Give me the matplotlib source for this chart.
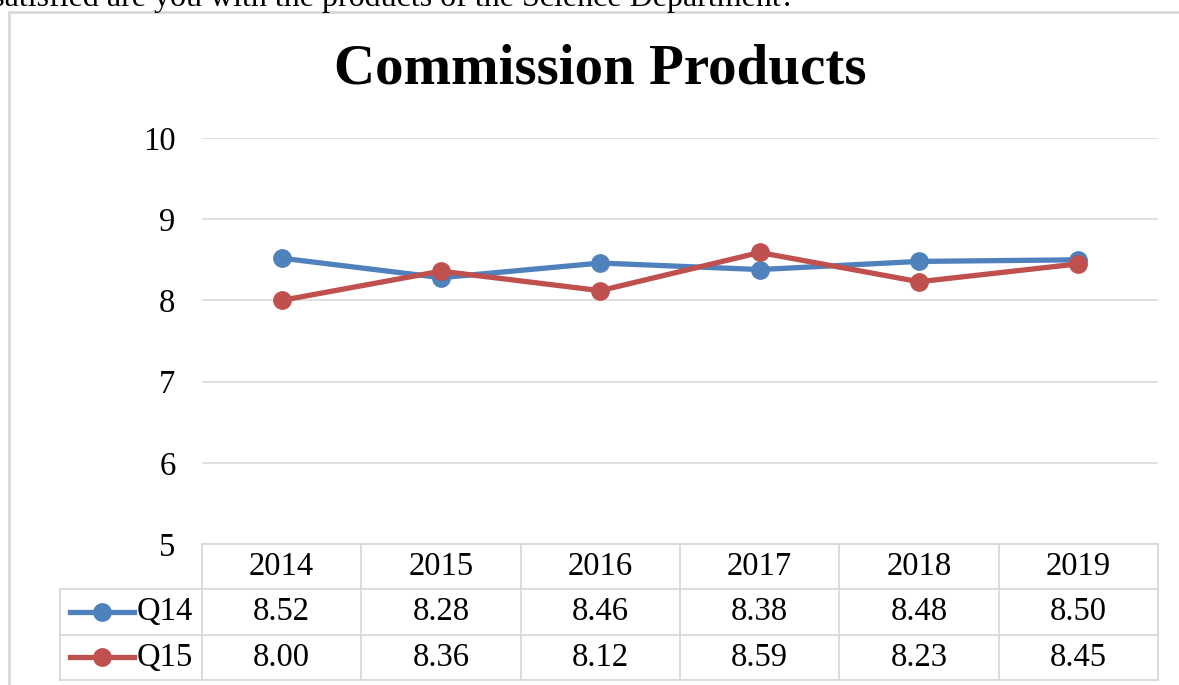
import matplotlib.pyplot as plt
from matplotlib.lines import Line2D

# data
years = ['2014', '2015', '2016', '2017', '2018', '2019']
q14 = [8.52, 8.28, 8.46, 8.38, 8.48, 8.50]
q15 = [8.00, 8.36, 8.12, 8.59, 8.23, 8.45]
series_names = ['Q14', 'Q15']
yticks = [5, 6, 7, 8, 9, 10]

plt.rcParams['font.family'] = ['Liberation Serif', 'DejaVu Serif']

W, H = 1179, 685
fig = plt.figure(figsize=(W / 100, H / 100), dpi=100)

def fx(px):
    return px / W

def fy(py):
    return 1 - py / H

blue = '#4F81BD'
red = '#C0504D'
grid = '#D9D9D9'
fs = 23.5

# sentence above the chart frame, cut by the top edge as in the source page
fig.text(fx(795), fy(6), 'How satisfied are you with the products of the Science Department?',
         fontsize=23, ha='right', va='baseline', color='black')

# chart frame (only left/top edges visible)
fig.add_artist(Line2D([fx(9), fx(9)], [fy(12), fy(H + 5)], color='#D9D9D9', lw=2.0))
fig.add_artist(Line2D([fx(9), fx(W + 5)], [fy(12), fy(12)], color='#D9D9D9', lw=2.0))

# main plot area
left, right, top, bottom = 202, 1158, 138, 544
ax = fig.add_axes([fx(left), fy(bottom), fx(right - left), (bottom - top) / H])
x = list(range(len(years)))
ax.plot(x, q14, color=blue, lw=3.8, marker='o', ms=12.5, zorder=3)
ax.plot(x, q15, color=red, lw=3.8, marker='o', ms=12.5, zorder=3)
ax.set_xlim(-0.5, len(years) - 0.5)
ax.set_ylim(5, 10)
ax.set_yticks(yticks)
ax.set_yticklabels([str(v) for v in yticks], fontsize=fs)
ax.tick_params(axis='y', length=0, pad=19)
ax.set_xticks([])
ax.grid(axis='y', color=grid, lw=1.2)
ax.set_axisbelow(True)
for s in ax.spines.values():
    s.set_visible(False)

fig.text(fx(600), fy(70), 'Commission Products', fontsize=41, fontweight='bold',
         ha='center', va='center')

# data table below the plot
tbl_bottom = 680
tax = fig.add_axes([fx(left), fy(tbl_bottom), fx(right - left), (tbl_bottom - bottom) / H])
tax.set_xlim(-0.5, len(years) - 0.5)
tax.set_ylim(3, 0)
tax.axis('off')
unit = (right - left) / len(years)
legend_left = -0.5 - (left - 60) / unit

lc = '#D9D9D9'
lw = 1.3
# horizontal lines
tax.plot([-0.5, 5.5], [0, 0], color=lc, lw=lw, clip_on=False)
for r in [1, 2, 3]:
    tax.plot([legend_left, 5.5], [r, r], color=lc, lw=lw, clip_on=False)
# vertical lines
tax.plot([legend_left, legend_left], [1, 3], color=lc, lw=lw, clip_on=False)
for c in range(len(years) + 1):
    tax.plot([c - 0.5, c - 0.5], [0, 3], color=lc, lw=lw, clip_on=False)

for i, yr in enumerate(years):
    tax.text(i, 0.5, yr, ha='center', va='center', fontsize=fs)
for r, (vals, col, name) in enumerate(zip([q14, q15], [blue, red], series_names), start=1):
    for i, v in enumerate(vals):
        tax.text(i, r + 0.5, f'{v:.2f}', ha='center', va='center', fontsize=fs)
    # legend key in the first column
    x0 = -0.5 - (left - 70) / unit
    x1 = -0.5 - (left - 134) / unit
    tax.plot([x0, x1], [r + 0.5, r + 0.5], color=col, lw=3.8, clip_on=False)
    tax.plot([(x0 + x1) / 2], [r + 0.5], color=col, marker='o', ms=12.5, clip_on=False)
    tax.text(-0.5 - (left - 137) / unit, r + 0.5, name, ha='left', va='center', fontsize=fs)

fig.savefig('out.png', dpi=100)
